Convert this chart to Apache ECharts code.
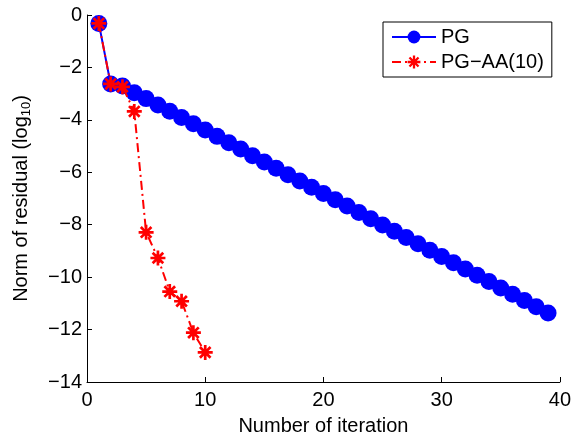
<!DOCTYPE html>
<html>
<head>
<meta charset="utf-8">
<script src="https://cdn.jsdelivr.net/npm/echarts@6/dist/echarts.min.js"></script>
<style>html,body{margin:0;padding:0;background:#fff}#c{width:574px;height:441px}</style>
</head>
<body>
<div id="c"></div>
<script>
var seriesNames = ['PG', 'PG\u2212AA(10)'];
var pgX = [1,2,3,4,5,6,7,8,9,10,11,12,13,14,15,16,17,18,19,20,21,22,23,24,25,26,27,28,29,30,31,32,33,34,35,36,37,38,39];
var pgY = [-0.32,-2.63,-2.71,-2.97,-3.19,-3.43,-3.67,-3.91,-4.15,-4.39,-4.63,-4.87,-5.11,-5.37,-5.61,-5.85,-6.09,-6.33,-6.57,-6.81,-7.05,-7.29,-7.53,-7.77,-8.01,-8.25,-8.49,-8.73,-8.97,-9.21,-9.45,-9.69,-9.93,-10.17,-10.41,-10.65,-10.89,-11.13,-11.37];
var aaX = [1,2,3,4,5,6,7,8,9,10];
var aaY = [-0.32,-2.63,-2.74,-3.68,-8.29,-9.27,-10.55,-10.92,-12.12,-12.87];
var xTicks = [0,10,20,30,40];
var yTicks = [0,-2,-4,-6,-8,-10,-12,-14];

var FONT = 'Liberation Sans, Arial, Helvetica, sans-serif';
var star = 'path://M-10,-1.8L10,-1.8L10,1.8L-10,1.8Z M-1.8,-10L1.8,-10L1.8,10L-1.8,10Z M-5.8,-8.35L8.35,5.8L5.8,8.35L-8.35,-5.8Z M-8.35,5.8L5.8,-8.35L8.35,-5.8L-5.8,8.35Z';
function minus(v){ return String(v).replace('-', '\u2212'); }
function zip(a,b){ return a.map(function(v,i){ return [v,b[i]]; }); }

var chart = echarts.init(document.getElementById('c'), null, {renderer:'canvas'});
chart.setOption({
  animation:false,
  backgroundColor:'#fff',
  grid:{left:87, right:12, top:15, bottom:53, containLabel:false},
  xAxis:{
    type:'value', min:xTicks[0], max:xTicks[xTicks.length-1], interval:10,
    name:'Number of iteration', nameLocation:'middle', nameGap:34,
    nameTextStyle:{fontFamily:FONT, fontSize:20, color:'#000'},
    axisLine:{show:true, onZero:false, lineStyle:{color:'#000', width:1}},
    axisTick:{show:true, inside:true, length:5, lineStyle:{color:'#000'}},
    axisLabel:{fontFamily:FONT, fontSize:20, color:'#000', margin:8, formatter:minus},
    splitLine:{show:false}
  },
  yAxis:{
    type:'value', min:yTicks[yTicks.length-1], max:yTicks[0], interval:2,
    name:'{a|Norm of residual (log}{s|10}{a|)}', nameLocation:'middle', nameGap:54, nameRotate:90,
    nameTextStyle:{fontFamily:FONT, fontSize:20, color:'#000',
      rich:{a:{fontFamily:FONT, fontSize:20, color:'#000'}, s:{fontFamily:FONT, fontSize:13, color:'#000', verticalAlign:'bottom', padding:[10,0,0,0]}}},
    axisLine:{show:true, onZero:false, lineStyle:{color:'#000', width:1}},
    axisTick:{show:true, inside:true, length:5, lineStyle:{color:'#000'}},
    axisLabel:{fontFamily:FONT, fontSize:20, color:'#000', margin:5, formatter:minus},
    splitLine:{show:false}
  },
  legend:{
    orient:'vertical', left:383, top:22,
    backgroundColor:'#fff', borderColor:'#000', borderWidth:1, borderRadius:0,
    padding:[5,8,5,8], itemGap:5, itemWidth:44, itemHeight:16,
    textStyle:{fontFamily:FONT, fontSize:20, color:'#000'},
    data:seriesNames
  },
  series:[
    {name:seriesNames[0], type:'line', data:zip(pgX,pgY), symbol:'circle', symbolSize:17,
     lineStyle:{color:'#0000ff', width:2}, itemStyle:{color:'#0000ff'}, z:2},
    {name:seriesNames[1], type:'line', data:zip(aaX,aaY), symbol:star, symbolSize:15,
     lineStyle:{color:'#ff0000', width:2, type:[9,4,2,4]}, itemStyle:{color:'#ff0000'}, z:3}
  ]
});
</script>
</body>
</html>
